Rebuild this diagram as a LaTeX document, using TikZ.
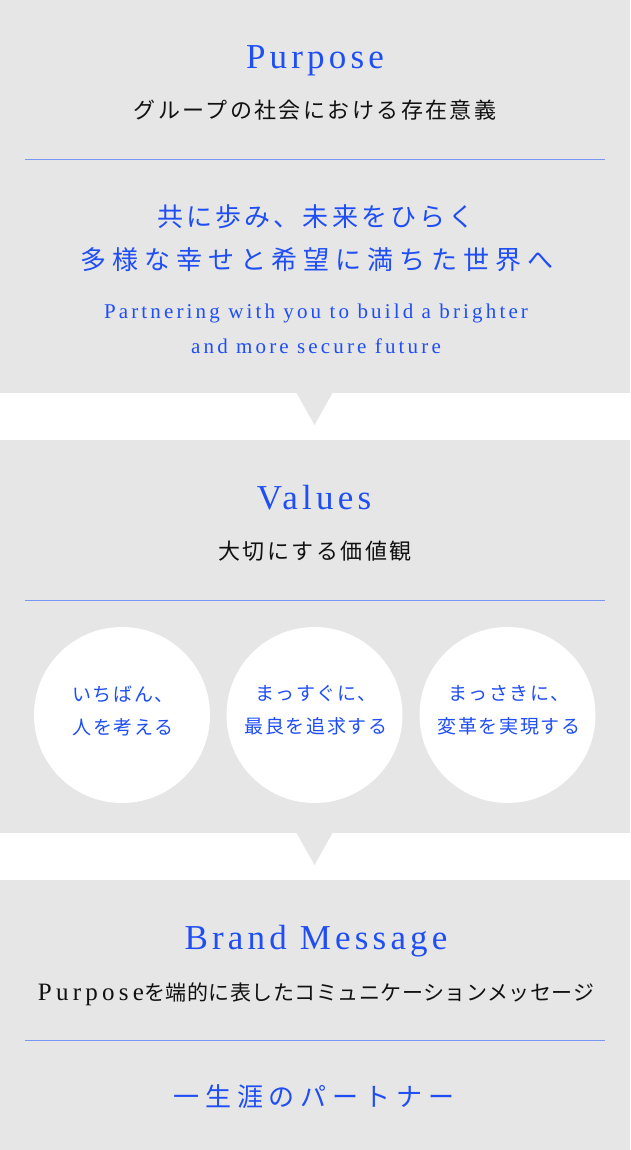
\documentclass[tikz,border=0pt]{standalone}
\usepackage{fontspec}
\setmainfont{Liberation Serif}
\newfontfamily\enhead{Liberation Serif}[LetterSpace=12]
\newfontfamily\entag{Liberation Serif}[LetterSpace=15]
\newfontfamily\ensub{Liberation Serif}[LetterSpace=17]
\newfontfamily\jpsub{Noto Sans CJK JP}[LetterSpace=11]
\newfontfamily\jptagA{Noto Sans CJK JP}[LetterSpace=12]
\newfontfamily\jptagB{Noto Sans CJK JP}[LetterSpace=23]
\newfontfamily\jpcirc{Noto Sans CJK JP}[LetterSpace=8]
\newfontfamily\jpplain{Noto Sans CJK JP}[LetterSpace=2.5]
\definecolor{panelgrey}{HTML}{E6E6E6}
\definecolor{mainblue}{HTML}{1F4EF5}
\definecolor{ruleblue}{HTML}{7A96F2}
\definecolor{textblack}{HTML}{111111}
\tikzset{
  panel/.style={fill=panelgrey, draw=none},
  heading/.style={inner sep=0pt, anchor=base, text=mainblue, font=\enhead\fontsize{35}{40}\selectfont},
  subhead/.style={inner sep=0pt, anchor=center, text=textblack, font=\jpsub\fontsize{22}{26}\selectfont},
  tagjpa/.style={inner sep=0pt, anchor=center, text=mainblue, font=\jptagA\fontsize{26}{30}\selectfont},
  tagjpb/.style={inner sep=0pt, anchor=center, text=mainblue, font=\jptagB\fontsize{26}{30}\selectfont},
  tagen/.style={inner sep=0pt, anchor=base, text=mainblue, font=\entag\fontsize{21}{25}\selectfont},
  rule/.style={draw=ruleblue, line width=1pt},
  valcircle/.style={circle, fill=white, draw=none, minimum size=176pt, inner sep=0pt},
  circtext/.style={inner sep=0pt, anchor=center, align=center, text=mainblue, font=\jpcirc\fontsize{19}{33}\selectfont}
}
\begin{document}
\begin{tikzpicture}[x=1pt, y=-1pt]
\useasboundingbox (0,0) rectangle (630,1150);
\fill[white] (0,0) rectangle (630,1150);
% panels
\path[panel] (0,0) rectangle (630,393);
\path[panel] (296,392) -- (333,392) -- (314.5,425) -- cycle;
\path[panel] (0,440) rectangle (630,833);
\path[panel] (296,832) -- (333,832) -- (314.5,865) -- cycle;
\path[panel] (0,880) rectangle (630,1150);
% Purpose
\node[heading] (purpose) at (315,69) {Purpose};
\node[subhead] (purposesub) at (315,110) {グループの社会における存在意義};
\coordinate (r1a) at (25,160);
\coordinate (r1b) at (605,160);
\draw[rule] (r1a) -- (r1b);
\node[tagjpa] (tag1) at (316,217) {共に歩み、未来をひらく};
\node[tagjpb] (tag2) at (317,260) {多様な幸せと希望に満ちた世界へ};
\node[tagen] (tagen1) at (316,318) {Partnering with you to build a brighter};
\node[tagen] (tagen2) at (316,353) {and more secure future};
% Values
\node[heading] (values) at (314,509) {Values};
\node[subhead] (valuessub) at (315,551) {大切にする価値観};
\coordinate (r2a) at (25,600);
\coordinate (r2b) at (605,600);
\draw[rule] (r2a) -- (r2b);
\node[valcircle] (c1) at (122,715) {};
\node[valcircle] (c2) at (314.5,715) {};
\node[valcircle] (c3) at (507.5,715) {};
\node[circtext] (t1) at (123,710.5) {いちばん、\\人を考える};
\node[circtext] (t2) at (316,710.5) {まっすぐに、\\最良を追求する};
\node[circtext] (t3) at (509,710.5) {まっさきに、\\変革を実現する};
% Brand Message
\node[heading] (brand) at (316,949) {Brand Message};
\node[inner sep=0pt, anchor=base, text=textblack] (brandsub) at (316,1000)
  {{\ensub\fontsize{25}{28}\selectfont Purpose}{\jpplain\fontsize{21}{26}\selectfont を端的に表したコミュニケーションメッセージ}};
\coordinate (r3a) at (25,1040);
\coordinate (r3b) at (605,1040);
\draw[rule] (r3a) -- (r3b);
\node[tagjpb] (brandmsg) at (314,1097) {一生涯のパートナー};
\end{tikzpicture}
\end{document}
